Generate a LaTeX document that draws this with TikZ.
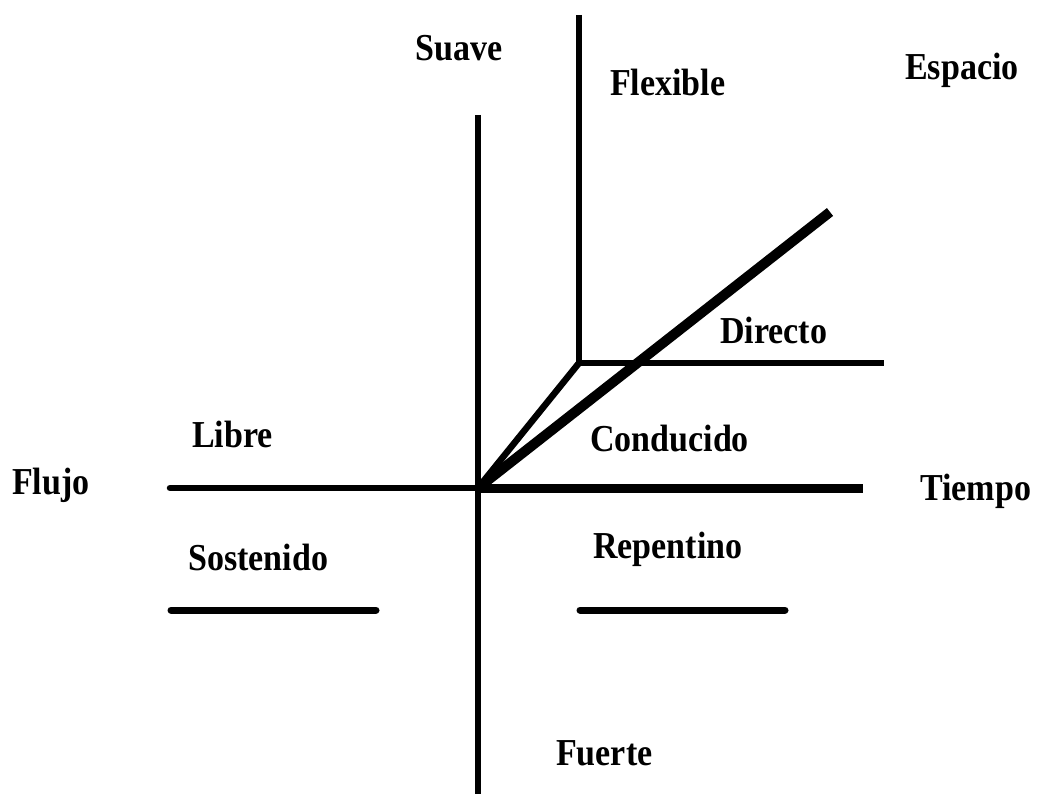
\documentclass[tikz,border=0pt]{standalone}
\usepackage{fontspec}
\setmainfont{Liberation Serif}
\begin{document}
\begin{tikzpicture}[x=1pt,y=-1pt,
  lbl/.style={anchor=base west,inner sep=0pt,font=\fontsize{34}{36}\selectfont\bfseries},
  ln/.style={line width=6.5pt},
  thickln/.style={line width=9pt},
  thinln/.style={line width=7pt,line cap=round}]
\fill[white] (0,0) rectangle (1042,794);
\useasboundingbox (0,0) rectangle (1042,794);
% coordinates
\coordinate (O) at (478,488);
\coordinate (P) at (579,363);
\coordinate (vtop) at (478,115);
\coordinate (vbot) at (478,794);
\coordinate (utop) at (579,15);
\coordinate (L) at (170,488);
\coordinate (R) at (863,488);
\coordinate (D) at (884,363);
\coordinate (E) at (830,212);
\coordinate (s1a) at (171,610);
\coordinate (s1b) at (376,610);
\coordinate (s2a) at (580,610);
\coordinate (s2b) at (785,610);
% lines
\draw[ln] (vtop) -- (vbot);
\draw[ln] (utop) -- (P);
\draw[ln,line cap=round] (L) -- (O);
\draw[thickln] (O) -- (R);
\draw[ln] (P) -- (D);
\draw[ln,line join=round] (O) -- (P);
\draw[line width=10pt] (O) -- (E);
\draw[thinln] (s1a) -- (s1b);
\draw[thinln] (s2a) -- (s2b);
% labels
\node[lbl] (suave) at (415,61) {\scalebox{1}[1.12]{Suave}};
\node[lbl] (flexible) at (610,96) {\scalebox{1}[1.12]{Flexible}};
\node[lbl] (espacio) at (905,80) {\scalebox{1}[1.12]{Espacio}};
\node[lbl] (directo) at (720,344) {\scalebox{1}[1.12]{Directo}};
\node[lbl] (libre) at (192,447) {\scalebox{1}[1.12]{Libre}};
\node[lbl] (conducido) at (590,451) {\scalebox{1}[1.12]{Conducido}};
\node[lbl] (flujo) at (12,494) {\scalebox{1}[1.12]{Flujo}};
\node[lbl] (tiempo) at (920,500) {\scalebox{1}[1.12]{Tiempo}};
\node[lbl] (sostenido) at (188,570) {\scalebox{1}[1.12]{Sostenido}};
\node[lbl] (repentino) at (593,558) {\scalebox{1}[1.12]{Repentino}};
\node[lbl] (fuerte) at (556,765) {\scalebox{1}[1.12]{Fuerte}};
\end{tikzpicture}
\end{document}
